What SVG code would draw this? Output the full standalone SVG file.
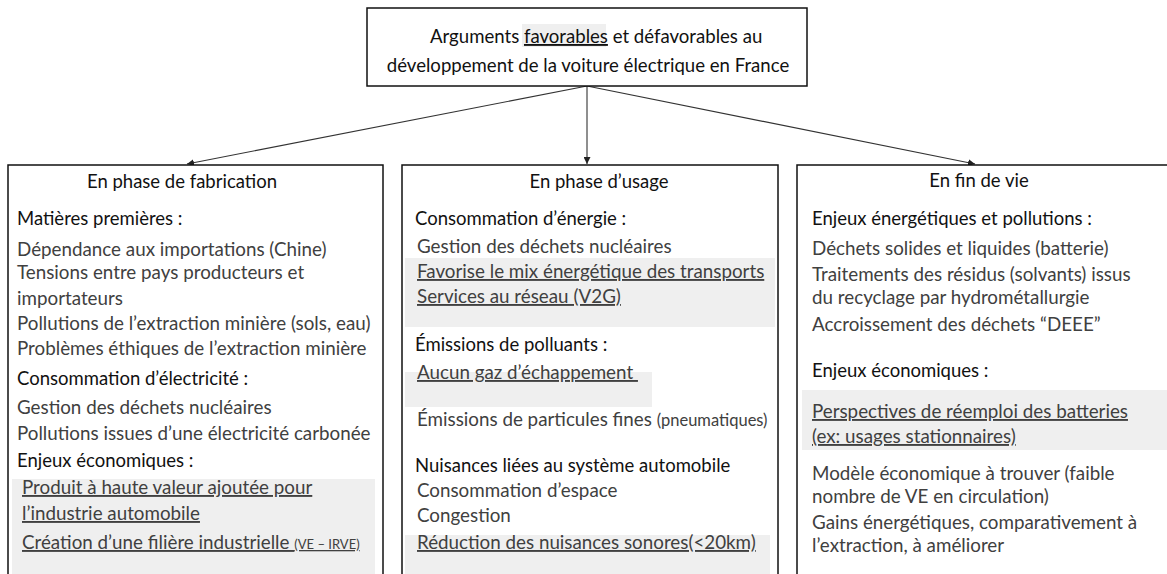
<svg xmlns="http://www.w3.org/2000/svg" width="1167" height="574" viewBox="0 0 1167 574">
<defs>
<marker id="ah" viewBox="0 0 10 10" refX="10" refY="5" markerWidth="7" markerHeight="7" orient="auto" markerUnits="userSpaceOnUse">
<path d="M0,0 L10,5 L0,10 z" fill="#222"/>
</marker>
<style>
text{font-family:Lato,"Liberation Sans",sans-serif;}
.t{font-size:18.6px;fill:#111;}
.h{font-size:18.5px;fill:#111;}
.b{font-size:18.8px;fill:#404040;}
.s{font-size:13px;}
.s2{font-size:16.5px;}
.u{text-decoration:underline;}
.box{fill:#fff;stroke:#111;stroke-width:1.5;}
.hl{fill:#efefef;}
.c{fill:none;stroke:#333;stroke-width:1.1;}
</style>
</defs>
<rect width="1167" height="574" fill="#fff"/>
<g id="connectors">
<line class="c" x1="587" y1="86" x2="187" y2="164" marker-end="url(#ah)"/>
<line class="c" x1="587" y1="86" x2="587" y2="164" marker-end="url(#ah)"/>
<line class="c" x1="587" y1="86" x2="975" y2="164" marker-end="url(#ah)"/>
</g>
<g id="title">
<rect class="box" x="367" y="8" width="440" height="78"/>
<rect class="hl" x="522" y="24" width="84" height="23"/>
<text class="t" x="430" y="43">Arguments <tspan class="u">favorables</tspan> et défavorables au</text>
<text class="t" x="588" y="72" text-anchor="middle">développement de la voiture électrique en France</text>
</g>
<g id="fabrication">
<rect class="box" x="8" y="165" width="375" height="420"/>
<rect class="hl" x="12" y="479" width="363" height="100"/>
<text class="h" x="182" y="188" text-anchor="middle">En phase de fabrication</text>
<text class="h" x="17" y="225">Matières premières :</text>
<text class="b" x="17" y="256">Dépendance aux importations (Chine)</text>
<text class="b" x="17" y="279">Tensions entre pays producteurs et</text>
<text class="b" x="17" y="305">importateurs</text>
<text class="b" x="17" y="330">Pollutions de l’extraction minière (sols, eau)</text>
<text class="b" x="17" y="355">Problèmes éthiques de l’extraction minière</text>
<text class="h" x="17" y="385">Consommation d’électricité :</text>
<text class="b" x="17" y="414">Gestion des déchets nucléaires</text>
<text class="b" x="17" y="440">Pollutions issues d’une électricité carbonée</text>
<text class="h" x="17" y="467">Enjeux économiques :</text>
<text class="b u" x="22" y="494">Produit à haute valeur ajoutée pour</text>
<text class="b u" x="22" y="520">l’industrie automobile</text>
<text class="b u" x="22" y="549">Création d’une filière industrielle <tspan class="s">(VE – IRVE)</tspan></text>
</g>
<g id="usage">
<rect class="box" x="402" y="165" width="376" height="420"/>
<rect class="hl" x="405" y="258" width="370" height="69"/>
<rect class="hl" x="405" y="372" width="247" height="35"/>
<rect class="hl" x="405" y="535" width="365" height="45"/>
<text class="h" x="599" y="188" text-anchor="middle">En phase d’usage</text>
<text class="h" x="415" y="225">Consommation d’énergie :</text>
<text class="b" x="417" y="253">Gestion des déchets nucléaires</text>
<text class="b u" x="417" y="278">Favorise le mix énergétique des transports</text>
<text class="b u" x="417" y="303">Services au réseau (V2G)</text>
<text class="h" x="415" y="351">Émissions de polluants :</text>
<text class="b u" x="417" y="379" xml:space="preserve">Aucun gaz d’échappement </text>
<text class="b" x="417" y="426">Émissions de particules fines <tspan class="s2">(pneumatiques)</tspan></text>
<text class="h" x="415" y="472">Nuisances liées au système automobile</text>
<text class="b" x="417" y="497">Consommation d’espace</text>
<text class="b" x="417" y="522">Congestion</text>
<text class="b u" x="417" y="549">Réduction des nuisances sonores(&lt;20km)</text>
</g>
<g id="findevie">
<rect class="box" x="797" y="165" width="380" height="420"/>
<rect class="hl" x="802" y="390" width="370" height="60"/>
<text class="h" x="979" y="187" text-anchor="middle">En fin de vie</text>
<text class="h" x="812" y="225">Enjeux énergétiques et pollutions :</text>
<text class="b" x="812" y="255">Déchets solides et liquides (batterie)</text>
<text class="b" x="812" y="281">Traitements des résidus (solvants) issus</text>
<text class="b" x="812" y="304">du recyclage par hydrométallurgie</text>
<text class="b" x="812" y="331">Accroissement des déchets “DEEE”</text>
<text class="h" x="812" y="377">Enjeux économiques :</text>
<text class="b u" x="812" y="418">Perspectives de réemploi des batteries</text>
<text class="b u" x="812" y="443">(ex: usages stationnaires)</text>
<text class="b" x="812" y="480">Modèle économique à trouver (faible</text>
<text class="b" x="812" y="503">nombre de VE en circulation)</text>
<text class="b" x="812" y="529">Gains énergétiques, comparativement à</text>
<text class="b" x="812" y="552">l’extraction, à améliorer</text>
</g>
</svg>
